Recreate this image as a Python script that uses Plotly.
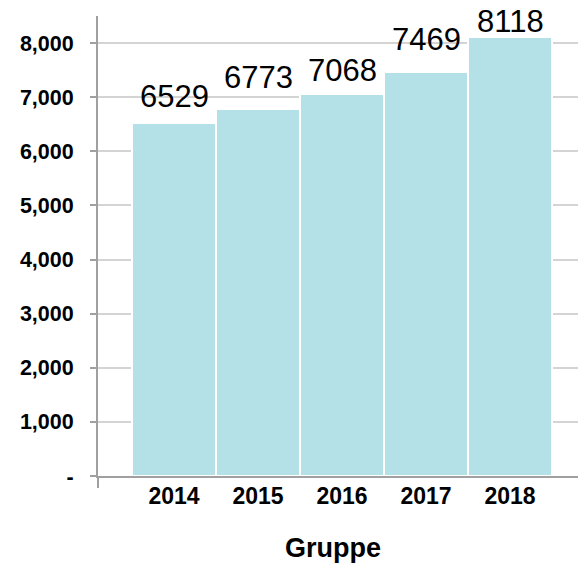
import plotly.graph_objects as go

years = ["2014", "2015", "2016", "2017", "2018"]
values = [6529, 6773, 7068, 7469, 8118]
y_tickvals = [0, 1000, 2000, 3000, 4000, 5000, 6000, 7000, 8000]
y_ticktext = ["-", "1,000", "2,000", "3,000", "4,000", "5,000", "6,000", "7,000", "8,000"]
label_shift = [26, 32, 23, 32, 15]

FONT = "Liberation Sans, Arial, sans-serif"
AXIS = "#a0a0a0"
PLOT_H = 460

fig = go.Figure()
fig.add_trace(go.Bar(
    x=years, y=values, width=1.0,
    marker=dict(color="#b3e1e7", line=dict(color="white", width=2)),
    hoverinfo="x+y",
))

for i, (v, s) in enumerate(zip(values, label_shift)):
    fig.add_annotation(x=i, y=v, xref="x", yref="y", text=str(v), showarrow=False,
                       yanchor="middle", yshift=s,
                       font=dict(family=FONT, size=31, color="black"))

fig.add_annotation(x=0.4835, y=-72 / PLOT_H, xref="paper", yref="paper", text="<b>Gruppe</b>",
                   showarrow=False, xanchor="center", yanchor="middle",
                   font=dict(family=FONT, size=27, color="black"))

# end ticks of the category axis and right border
fig.add_shape(type="line", xref="paper", yref="paper", x0=0, x1=0, y0=0, y1=-12 / PLOT_H,
              line=dict(color=AXIS, width=2))
fig.add_shape(type="line", xref="paper", yref="paper", x0=1, x1=1, y0=0, y1=-12 / PLOT_H,
              line=dict(color=AXIS, width=2))
fig.add_shape(type="line", xref="paper", yref="paper", x0=1, x1=1, y0=0, y1=1,
              line=dict(color="#e8e8e8", width=1), layer="below")

# page body has an 8px default margin, so the figure is sized to fit inside it
fig.update_layout(
    width=578, height=557,
    margin=dict(l=90, r=2, t=8, b=89, autoexpand=False),
    paper_bgcolor="white", plot_bgcolor="white",
    showlegend=False, bargap=0,
    font=dict(family=FONT, color="black"),
    xaxis=dict(
        type="category", range=[-0.905, 4.881],
        showline=True, linecolor=AXIS, linewidth=2,
        ticks="", showgrid=False,
        tickfont=dict(family=FONT, size=23, color="black", weight="bold"),
        ticklabelstandoff=-2,
    ),
    yaxis=dict(
        range=[0, 8500],
        tickvals=y_tickvals, ticktext=y_ticktext,
        showline=True, linecolor=AXIS, linewidth=2,
        ticks="outside", ticklen=6, tickcolor=AXIS, tickwidth=2,
        showgrid=True, gridcolor="#d4d4d4", gridwidth=1.5,
        zeroline=False,
        tickfont=dict(family=FONT, size=21.5, color="black", weight="bold"),
        ticklabelstandoff=12,
    ),
)

fig.write_html("out.html")
